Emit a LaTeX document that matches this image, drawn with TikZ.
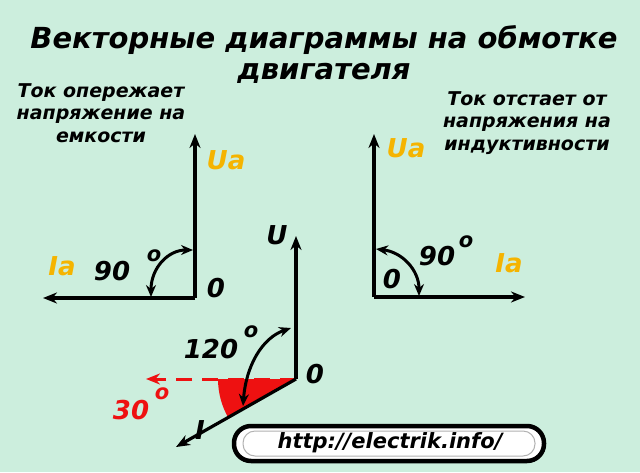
\documentclass[tikz,border=0pt]{standalone}
\usepackage{fontspec}
\setmainfont{DejaVu Sans}
\usetikzlibrary{arrows.meta}
\begin{document}
\begin{tikzpicture}[x=1pt,y=-1pt,
 txt/.style={font=\bfseries\itshape\fontsize{19}{22.5}\selectfont,align=center,inner sep=0},
 lbl/.style={font=\bfseries\itshape\fontsize{26}{27}\selectfont,inner sep=0},
 sup/.style={font=\bfseries\itshape\fontsize{21}{22}\selectfont,inner sep=0},
 vec/.style={line width=3.2pt,-{Stealth[length=14pt,width=11pt]}},
 arc/.style={line width=3pt,{Stealth[length=12pt,width=10pt]}-{Stealth[length=12pt,width=10pt]}}]
\definecolor{bg}{HTML}{CCEEDD}
\definecolor{ora}{HTML}{F5B400}
\definecolor{rd}{HTML}{EE1111}
\fill[bg] (0,0) rectangle (640,472);
\useasboundingbox (0,0) rectangle (640,472);
\node[txt,font=\bfseries\itshape\fontsize{29}{31}\selectfont] (title) at (324,55) {Векторные диаграммы на обмотке\\двигателя};
\node[txt] (tl) at (101,113) {Ток опережает\\напряжение на\\емкости};
\node[txt] (tr) at (527,123) {Ток отстает от\\напряжения на\\индуктивности};
% left
\coordinate (o1) at (195,298);
\coordinate (u1) at (195,134);
\coordinate (i1) at (43,298);
\draw[vec] (o1) -- (u1);
\draw[vec] (o1) -- (i1);
\coordinate (a1) at (193,250); \coordinate (b1) at (151,297);
\draw[arc] (b1) .. controls (151,268) and (168,250) .. (a1);
\node[lbl,text=ora] (ua1) at (226,160) {Ua};
\node[lbl,text=ora] (ia1) at (62,266) {Ia};
\node[lbl] (n901) at (112,271) {90};
\node[sup] (d1) at (154,256) {o};
\node[lbl] (z1) at (216,288) {0};
% right
\coordinate (o2) at (374,297);
\coordinate (u2) at (374,134);
\coordinate (i2) at (525,297);
\draw[vec] (o2) -- (u2);
\draw[vec] (o2) -- (i2);
\coordinate (a2) at (376,249); \coordinate (b2) at (419,296);
\draw[arc] (a2) .. controls (402,252) and (419,270) .. (b2);
\node[lbl,text=ora] (ua2) at (406,148) {Ua};
\node[lbl,text=ora] (ia2) at (509,263) {Ia};
\node[lbl] (n902) at (437,256) {90};
\node[sup] (d2) at (466,242) {o};
\node[lbl] (z2) at (392,279) {0};
% center
\coordinate (o3) at (296,379);
\fill[rd] (o3) -- (218,379) arc[start angle=180,end angle=210,radius=78pt] -- cycle;
\draw[rd,line width=3pt,dash pattern=on 16pt off 10pt,-{Stealth[length=14pt,width=11pt]}] (o3) -- (146,379);
\draw[vec] (o3) -- (296,236);
\draw[vec] (o3) -- (176,447);
\coordinate (a3) at (291,328); \coordinate (b3) at (243,406);
\draw[arc] (b3) .. controls (246,366) and (262,338) .. (a3);
\node[lbl] (u3) at (277,235) {U};
\node[lbl] (z3) at (315,374) {0};
\node[lbl] (n120) at (211,349) {120};
\node[sup] (d3) at (251,332) {o};
\node[lbl,text=rd] (n30) at (131,410) {30};
\node[sup,text=rd] (d4) at (162,394) {o};
\node[lbl] (i3) at (200,430) {I};
% url box
\draw[line width=4.5pt,fill=white,rounded corners=17pt] (234,426) rectangle (544,461);
\draw[gray!60,line width=1pt,rounded corners=12pt] (243,431) rectangle (535,456);
\node[lbl,font=\bfseries\itshape\fontsize{21}{22}\selectfont] (url) at (390,443) {http://electrik.info/};
\end{tikzpicture}
\end{document}
